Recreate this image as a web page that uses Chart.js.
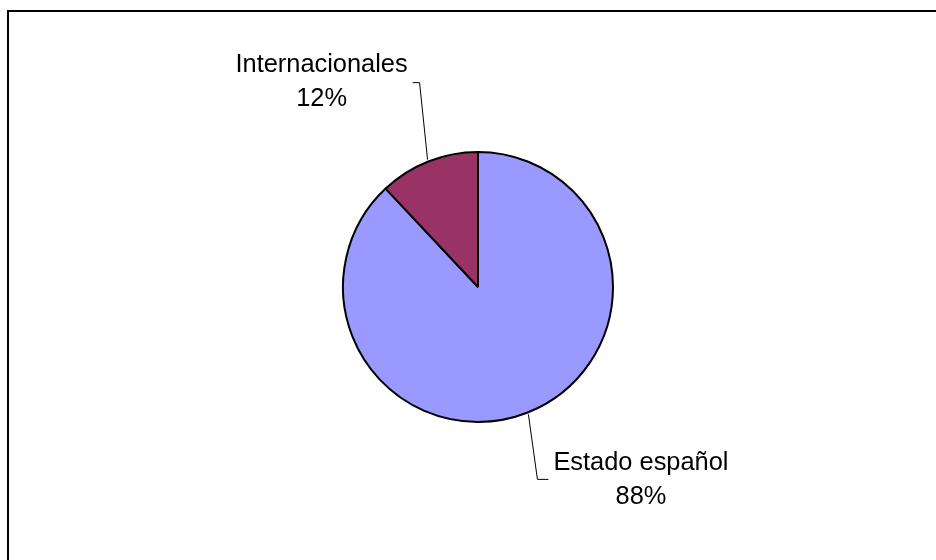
<!DOCTYPE html>
<html>
<head>
<meta charset="utf-8">
<script src="https://cdn.jsdelivr.net/npm/chart.js@4/dist/chart.umd.min.js"></script>
<style>
  html, body { margin: 0; padding: 0; background: #fff; }
  canvas { display: block; }
</style>
</head>
<body>
<canvas id="grafica" width="936" height="560"></canvas>
<script>
const categorias = ["Estado español", "Internacionales"];
const valores = [88, 12];
const colores = ["#9999FF", "#993366"];

// posicion de cada etiqueta respecto al punto de anclaje sobre el arco
const etiquetas = [
  { dx: 112.5, dy: 55.5, codoX: 9, codoY: 65, lado: "izq" },
  { dx: -106, dy: -87.7, codoX: -8, codoY: -77, lado: "der" }
];

const fuente = "25.4px 'Liberation Sans', Arial, sans-serif";
const interlinea = 34.5;

const marco = {
  id: "marco",
  afterDraw(chart) {
    const ctx = chart.ctx;
    ctx.save();
    ctx.strokeStyle = "#000";
    ctx.lineWidth = 2;
    ctx.strokeRect(8, 11, 960, 600);
    ctx.restore();
  }
};

const rotulos = {
  id: "rotulos",
  afterDatasetsDraw(chart) {
    const ctx = chart.ctx;
    const meta = chart.getDatasetMeta(0);
    const total = valores.reduce((a, b) => a + b, 0);
    ctx.save();
    ctx.font = fuente;
    ctx.fillStyle = "#000";
    ctx.textAlign = "center";
    ctx.textBaseline = "alphabetic";
    meta.data.forEach((arc, i) => {
      const p = arc.getProps(["x", "y", "startAngle", "endAngle", "outerRadius"], true);
      const medio = (p.startAngle + p.endAngle) / 2;
      const r = p.outerRadius + 2;
      const ax = p.x + Math.cos(medio) * r;
      const ay = p.y + Math.sin(medio) * r;
      const e = etiquetas[i];
      const tx = ax + e.dx;
      const ty = ay + e.dy;
      const linea1 = categorias[i];
      const linea2 = Math.round(valores[i] / total * 100) + "%";
      ctx.fillText(linea1, tx, ty);
      ctx.fillText(linea2, tx, ty + interlinea);

      // linea guia
      const ancho = ctx.measureText(linea1).width;
      const cx = ax + e.codoX;
      const cy = ay + e.codoY;
      const fin = e.lado === "izq" ? tx - ancho / 2 - 5 : tx + ancho / 2 + 5;
      ctx.beginPath();
      ctx.strokeStyle = "#000";
      ctx.lineWidth = 1;
      ctx.moveTo(ax, ay);
      ctx.lineTo(cx, cy);
      ctx.lineTo(fin, cy);
      ctx.stroke();
    });
    ctx.restore();
  }
};

new Chart(document.getElementById("grafica").getContext("2d"), {
  type: "pie",
  data: {
    labels: categorias,
    datasets: [{
      data: valores,
      backgroundColor: colores,
      borderColor: "#000",
      borderWidth: 2
    }]
  },
  options: {
    responsive: false,
    animation: false,
    radius: 135,
    layout: { padding: { left: 20, top: 14, right: 0, bottom: 0 } },
    plugins: {
      legend: { display: false },
      tooltip: { enabled: false }
    }
  },
  plugins: [rotulos, marco]
});
</script>
</body>
</html>
